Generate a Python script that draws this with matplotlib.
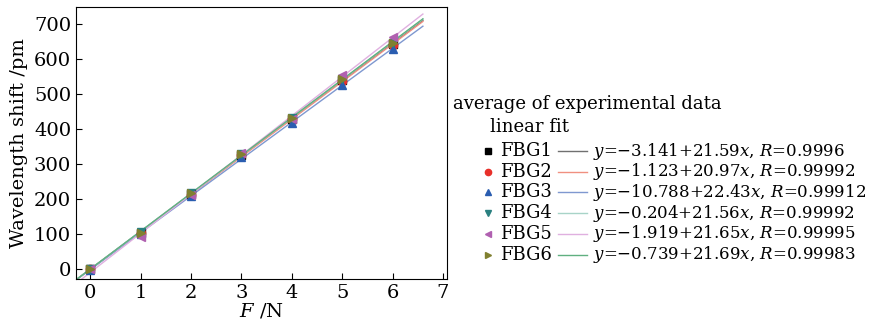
import matplotlib
matplotlib.use("Agg")
import matplotlib.pyplot as plt
import numpy as np
from matplotlib.lines import Line2D

plt.rcParams['font.family'] = 'DejaVu Serif'
plt.rcParams['mathtext.fontset'] = 'dejavuserif'

# data
force = [0, 1, 2, 3, 4, 5, 6]
names = ["FBG1", "FBG2", "FBG3", "FBG4", "FBG5", "FBG6"]
shift = [
    [0, 104, 215, 327, 430, 540, 645],
    [0, 102, 213, 325, 428, 538, 642],
    [-2, 100, 210, 320, 418, 527, 630],
    [0, 105, 216, 328, 433, 543, 648],
    [0, 90, 213, 332, 428, 555, 665],
    [0, 104, 217, 330, 432, 545, 648],
]
equations = [
    r"$y$=$-$3.141+21.59$x$, $R$=0.9996",
    r"$y$=$-$1.123+20.97$x$, $R$=0.99992",
    r"$y$=$-$10.788+22.43$x$, $R$=0.99912",
    r"$y$=$-$0.204+21.56$x$, $R$=0.99992",
    r"$y$=$-$1.919+21.65$x$, $R$=0.99995",
    r"$y$=$-$0.739+21.69$x$, $R$=0.99983",
]
markers = ["s", "o", "^", "v", "<", ">"]
mcolors = ["#000000", "#e8302a", "#2a5db0", "#2a8080", "#b060b0", "#808030"]
lcolors = ["#707070", "#f09080", "#7f98d0", "#a8d4c8", "#e0b0e0", "#60b080"]

fig = plt.figure(figsize=(8.7, 3.26), dpi=100)
ax = fig.add_axes([0.0874, 0.144, 0.4265, 0.8345])

xfit = np.linspace(-0.3, 6.6, 50)
for i in range(len(names)):
    b, a = np.polyfit(force, shift[i], 1)
    ax.plot(xfit, a + b * xfit, color=lcolors[i], lw=1.0, zorder=2)
for i in range(len(names)):
    ax.plot(force, shift[i], linestyle="none", marker=markers[i], color=mcolors[i],
            ms=6, zorder=3)

ax.set_xlim(-0.28, 7.08)
ax.set_ylim(-29, 750)
ax.set_xticks(range(0, 8))
ax.set_yticks(range(0, 701, 100))
ax.tick_params(direction="in", length=4, labelsize=14, top=False, right=False)
ax.set_xlabel(r"$F$ /N", fontsize=14, labelpad=0)
ax.set_ylabel("Wavelength shift /pm", fontsize=14, labelpad=4)

# legend, drawn by hand
W, H = 870.0, 326.0
fig.text(453 / W, 1 - 104 / H, "average of experimental data", fontsize=13, va="center")
fig.text(490 / W, 1 - 127 / H, "linear fit", fontsize=13, va="center")
for i in range(len(names)):
    yc = 1 - (151 + 20.7 * i) / H
    fig.add_artist(Line2D([488 / W], [yc], marker=markers[i], color=mcolors[i],
                          ms=4.5, linestyle="none", transform=fig.transFigure))
    fig.text(500 / W, yc, names[i], fontsize=13, va="center")
    fig.add_artist(Line2D([558 / W, 587 / W], [yc, yc], color=lcolors[i], lw=1.0,
                          transform=fig.transFigure))
    fig.text(593 / W, yc, equations[i], fontsize=12, va="center")

fig.savefig("out.png", dpi=100)
